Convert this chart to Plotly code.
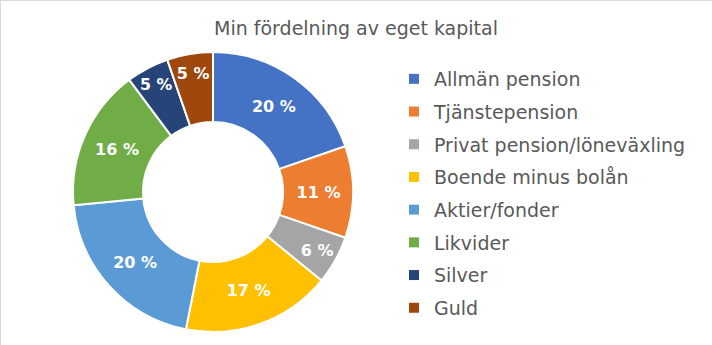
import plotly.graph_objects as go

labels = ["Allmän pension", "Tjänstepension", "Privat pension/löneväxling",
          "Boende minus bolån", "Aktier/fonder", "Likvider", "Silver", "Guld"]
values = [19.7, 10.6, 5.6, 17.2, 20.4, 16.3, 4.9, 5.3]
colors = ["#4472C4", "#ED7D31", "#A5A5A5", "#FFC000", "#5B9BD5", "#70AD47", "#264478", "#9E480E"]
title_text = "Min fördelning av eget kapital"

W, H = 712, 345
total = sum(values)
text_labels = [f"{round(v / total * 100)} %" for v in values]

fig = go.Figure()
fig.add_trace(go.Pie(
    labels=labels, values=values, sort=False, direction="clockwise", rotation=0,
    hole=0.5,
    marker=dict(colors=colors, line=dict(color="white", width=2)),
    text=text_labels, textinfo="text", textposition="inside",
    insidetextorientation="horizontal",
    textfont=dict(family="DejaVu Sans", size=16, color="white", weight="bold"),
    domain=dict(x=[73 / W, 353 / W], y=[13 / H, 293 / H]),
    showlegend=False, hoverinfo="label+percent",
))
for lab, col in zip(labels, colors):
    fig.add_trace(go.Scatter(
        x=[None], y=[None], mode="markers", name=lab, legendgroup=lab,
        marker=dict(symbol="square", size=10, color=col), showlegend=True,
    ))

fig.update_layout(
    width=W, height=H,
    margin=dict(l=0, r=0, t=0, b=0),
    paper_bgcolor="white", plot_bgcolor="white",
    title=dict(text=title_text, x=0.5, xanchor="center", y=1 - 28 / H, yanchor="middle",
               font=dict(family="DejaVu Sans", size=19, color="#595959")),
    xaxis=dict(visible=False), yaxis=dict(visible=False),
    legend=dict(x=394 / W, xanchor="left", y=1 - 60 / H, yanchor="top",
                font=dict(family="DejaVu Sans", size=19, color="#595959"),
                tracegroupgap=5, bgcolor="rgba(0,0,0,0)", itemclick=False, itemdoubleclick=False),
    shapes=[
        dict(type="line", xref="paper", yref="paper", x0=0, x1=1, y0=1, y1=1,
             line=dict(color="#d9d9d9", width=2)),
        dict(type="line", xref="paper", yref="paper", x0=0, x1=0, y0=0, y1=1,
             line=dict(color="#d9d9d9", width=2)),
    ],
)

fig.write_html("out.html")
